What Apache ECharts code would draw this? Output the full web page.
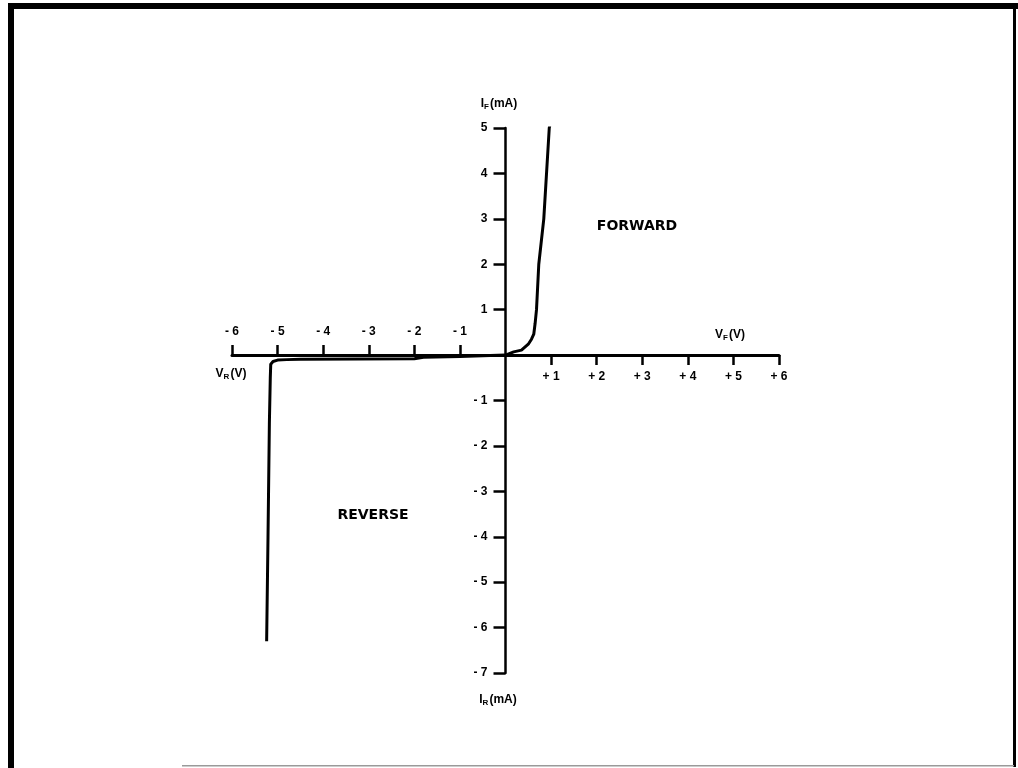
<!DOCTYPE html>
<html>
<head>
<meta charset="utf-8">
<title>Diode V-I characteristic</title>
<script src="https://cdn.jsdelivr.net/npm/echarts@6/dist/echarts.min.js"></script>
<style>
  html, body { margin: 0; padding: 0; background: #fff; }
  #chart { width: 1018px; height: 768px; }
</style>
</head>
<body>
<div id="chart"></div>
<script>
// Forward branch: voltage (V) and current (mA)
const forwardV = [0, 0.18, 0.35, 0.50, 0.57, 0.62, 0.65, 0.68, 0.73, 0.84, 0.90, 0.96, 0.98];
const forwardI = [0, 0.07, 0.11, 0.24, 0.35, 0.46, 0.70, 1.0, 2.0, 3.0, 4.0, 5.0, 5.1];

// Reverse branch: voltage (V) and current (mA)
const reverseV = [0, -1.0, -1.8, -2.0, -4.5, -4.8, -5.0, -5.1, -5.15, -5.16, -5.18, -5.21, -5.24];
const reverseI = [0, -0.03, -0.05, -0.08, -0.09, -0.10, -0.11, -0.14, -0.20, -0.50, -1.5, -4.0, -6.3];

// Axis ranges and ticks
const xMin = -6, xMax = 6;
const yMin = -7, yMax = 5;
const xNegTicks = [-6, -5, -4, -3, -2, -1];
const xPosTicks = [1, 2, 3, 4, 5, 6];
const yTicks = [5, 4, 3, 2, 1, -1, -2, -3, -4, -5, -6, -7];

// Plot box (pixels)
const W = 1018, H = 768;
const L = 232, R = 779, T = 128, B = 673;
// where the axes cross (value 0 on each scale)
const x0 = L + (0 - xMin) / (xMax - xMin) * (R - L);
const y0 = T + (yMax - 0) / (yMax - yMin) * (B - T);

const FONT = 'Liberation Sans';
const labelStyle = { color: '#000', fontFamily: FONT, fontWeight: 'bold', fontSize: 12 };

const zip = (a, b) => a.map((v, i) => [v, b[i]]);

const chart = echarts.init(document.getElementById('chart'), null, { renderer: 'canvas' });

const subRich = {
  m: { fontFamily: FONT, fontWeight: 'bold', fontSize: 12, fill: '#000' },
  s: { fontFamily: FONT, fontWeight: 'bold', fontSize: 8, fill: '#000', verticalAlign: 'bottom', padding: [6, 1, 0, 0] }
};
const caption = (x, y, main, sub, unit) => ({
  type: 'text', x, y,
  style: { text: '{m|' + main + '}{s|' + sub + '}{m|' + unit + '}', align: 'center', verticalAlign: 'middle', rich: subRich }
});

chart.setOption({
  animation: false,
  backgroundColor: '#fff',
  grid: [
    // plotting area for the curves
    { left: L, right: W - R, top: T, bottom: H - B },
    // holder for the horizontal (voltage) axis, its bottom edge at I = 0
    { left: L, right: W - R, top: T, bottom: H - y0 },
    // holder for the vertical (current) axis, its left edge at V = 0
    { left: x0, right: W - R, top: T, bottom: H - B }
  ],
  xAxis: [
    { gridIndex: 0, type: 'value', min: xMin, max: xMax, show: false },
    {
      gridIndex: 1, type: 'value', min: xMin, max: xMax, interval: 1, position: 'bottom',
      axisLine: { onZero: false, lineStyle: { color: '#000', width: 3 } },
      axisTick: { show: true, inside: true, length: 10, customValues: xNegTicks,
                  lineStyle: { color: '#000', width: 2.5 } },
      axisLabel: Object.assign({ inside: true, margin: 17, customValues: xNegTicks,
                  formatter: v => '- ' + Math.abs(v) }, labelStyle),
      splitLine: { show: false }
    },
    {
      gridIndex: 1, type: 'value', min: xMin, max: xMax, interval: 1, position: 'bottom',
      axisLine: { show: false, onZero: false },
      axisTick: { show: true, inside: false, length: 10, customValues: xPosTicks,
                  lineStyle: { color: '#000', width: 2.5 } },
      axisLabel: Object.assign({ margin: 16, customValues: xPosTicks,
                  formatter: v => '+ ' + v }, labelStyle),
      splitLine: { show: false }
    },
    { gridIndex: 2, type: 'value', min: 0, max: xMax, show: false }
  ],
  yAxis: [
    { gridIndex: 0, type: 'value', min: yMin, max: yMax, show: false },
    { gridIndex: 1, type: 'value', min: 0, max: yMax, show: false },
    {
      gridIndex: 2, type: 'value', min: yMin, max: yMax, interval: 1, position: 'left',
      axisLine: { onZero: false, lineStyle: { color: '#000', width: 2.5 } },
      axisTick: { show: true, length: 12, customValues: yTicks,
                  lineStyle: { color: '#000', width: 2.5 } },
      axisLabel: Object.assign({ margin: 18, customValues: yTicks,
                  formatter: v => v < 0 ? '- ' + Math.abs(v) : String(v) }, labelStyle),
      splitLine: { show: false }
    }
  ],
  series: [
    {
      name: 'FORWARD', type: 'line', xAxisIndex: 0, yAxisIndex: 0, showSymbol: false, smooth: false,
      lineStyle: { color: '#000', width: 3 }, z: 5,
      data: zip(forwardV, forwardI)
    },
    {
      name: 'REVERSE', type: 'line', xAxisIndex: 0, yAxisIndex: 0, showSymbol: false, smooth: false,
      lineStyle: { color: '#000', width: 3 }, z: 5,
      data: zip(reverseV, reverseI)
    }
  ],
  graphic: [
    // page frame
    { type: 'rect', shape: { x: 8, y: 3, width: 1010, height: 6 }, style: { fill: '#000' } },
    { type: 'rect', shape: { x: 8, y: 3, width: 6, height: 765 }, style: { fill: '#000' } },
    { type: 'rect', shape: { x: 1013, y: 3, width: 3, height: 764 }, style: { fill: '#000' } },
    { type: 'rect', shape: { x: 182, y: 765, width: 832, height: 1.5 }, style: { fill: '#9a9a9a' } },
    // axis captions
    caption(499, 104, 'I', 'F', '(mA)'),
    caption(498, 700, 'I', 'R', '(mA)'),
    caption(730, 335, 'V', 'F', '(V)'),
    caption(231, 374, 'V', 'R', '(V)'),
    // region labels
    { type: 'text', x: 637, y: 226, style: { text: 'FORWARD', align: 'center', verticalAlign: 'middle',
        font: 'bold 14px "DejaVu Sans"', fill: '#000' } },
    { type: 'text', x: 373, y: 515, style: { text: 'REVERSE', align: 'center', verticalAlign: 'middle',
        font: 'bold 14px "DejaVu Sans"', fill: '#000' } }
  ]
});
</script>
</body>
</html>
